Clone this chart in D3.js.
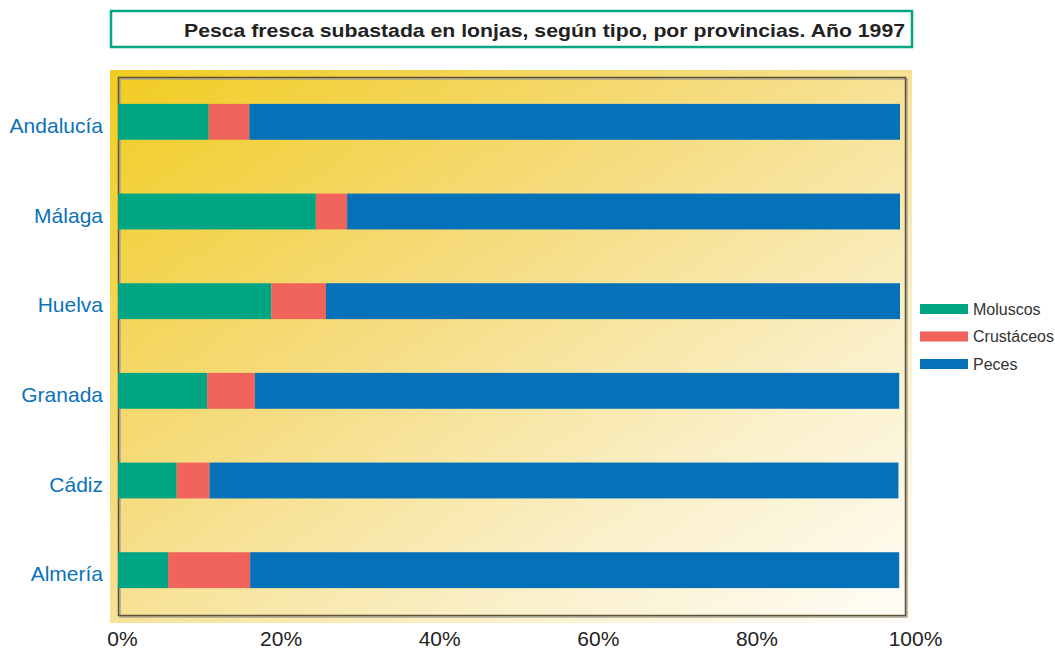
<!DOCTYPE html>
<html>
<head>
<meta charset="utf-8">
<script src="https://cdn.jsdelivr.net/npm/d3@7"></script>
<style>
  body { margin: 0; background: #fff; }
  text { font-family: "Liberation Sans", Arial, sans-serif; }
</style>
</head>
<body>
<div id="chart"></div>
<script>

// provinces, top to bottom
var provincias = ["Andalucía", "Málaga", "Huelva", "Granada", "Cádiz", "Almería"];

// share of each type, in percent
var moluscos   = [11.6, 25.3, 19.6, 11.4, 7.5, 6.4];
var crustaceos = [5.2, 4.0, 7.0, 6.1, 4.2, 10.5];
var peces      = [83.2, 70.7, 73.4, 82.4, 88.1, 83.0];

var series = ["Moluscos", "Crustáceos", "Peces"];
var colores = ["#00a683", "#f0645c", "#0571b9"];

var ticks = [0, 20, 40, 60, 80, 100];
var titulo = "Pesca fresca subastada en lonjas, según tipo, por provincias. Año 1997";

var width = 1055, height = 649;

var svg = d3.select("#chart")
  .append("svg")
    .attr("width", width)
    .attr("height", height);

var defs = svg.append("defs");

// yellow to white background
var grad = defs.append("linearGradient")
    .attr("id", "fondo")
    .attr("x1", 0).attr("y1", 0)
    .attr("x2", 1).attr("y2", 1);
grad.append("stop").attr("offset", 0).attr("stop-color", "#f1cb1b");
grad.append("stop").attr("offset", 0.4).attr("stop-color", "#f5db7c");
grad.append("stop").attr("offset", 0.72).attr("stop-color", "#faefc6");
grad.append("stop").attr("offset", 1).attr("stop-color", "#fffdf8");

// faint diagonal hatch on top of it
var hatch = defs.append("pattern")
    .attr("id", "rayas")
    .attr("width", 4).attr("height", 4)
    .attr("patternUnits", "userSpaceOnUse")
    .attr("patternTransform", "rotate(45)");
hatch.append("line")
    .attr("x1", 0).attr("y1", 0)
    .attr("x2", 0).attr("y2", 4)
    .attr("stroke", "#fff")
    .attr("stroke-opacity", 0.18)
    .attr("stroke-width", 1);

// title box
svg.append("rect")
    .attr("x", 111).attr("y", 11)
    .attr("width", 801).attr("height", 36)
    .attr("fill", "#fff")
    .attr("stroke", "#00a683")
    .attr("stroke-width", 2.5);

svg.append("text")
    .attr("x", 905).attr("y", 37)
    .attr("text-anchor", "end")
    .attr("font-size", 19)
    .attr("font-weight", "bold")
    .attr("fill", "#222")
    .attr("textLength", 721)
    .attr("lengthAdjust", "spacingAndGlyphs")
    .text(titulo);

// plot background
svg.append("rect")
    .attr("x", 110).attr("y", 70)
    .attr("width", 802).attr("height", 553)
    .attr("fill", "url(#fondo)");
svg.append("rect")
    .attr("x", 110).attr("y", 70)
    .attr("width", 802).attr("height", 553)
    .attr("fill", "url(#rayas)");

// frame with a small shadow
svg.append("rect")
    .attr("x", 120).attr("y", 79)
    .attr("width", 787).attr("height", 538)
    .attr("fill", "none")
    .attr("stroke", "#aaa597")
    .attr("stroke-width", 1.5);
svg.append("rect")
    .attr("x", 118.5).attr("y", 77.5)
    .attr("width", 787).attr("height", 538)
    .attr("fill", "none")
    .attr("stroke", "#5e5336")
    .attr("stroke-width", 1.5);

// scales
var x = d3.scaleLinear()
    .domain([0, 100])
    .range([118, 900]);

var y = d3.scaleBand()
    .domain(provincias)
    .range([77, 615])
    .paddingInner(0.6)
    .paddingOuter(0.3);

// tick labels sit a little to the right of the bar scale
var xLabels = d3.scaleLinear()
    .domain([0, 100])
    .range([122, 915]);

var rows = provincias.map(function(p, i) {
  return {provincia: p, Moluscos: moluscos[i], "Crustáceos": crustaceos[i], Peces: peces[i]};
});

var stacked = d3.stack().keys(series)(rows);

svg.append("g")
  .selectAll("g")
  .data(stacked)
  .join("g")
    .attr("fill", function(d, i) { return colores[i]; })
  .selectAll("rect")
  .data(function(d) { return d; })
  .join("rect")
    .attr("x", function(d) { return x(d[0]); })
    .attr("y", function(d) { return y(d.data.provincia); })
    .attr("width", function(d) { return x(d[1]) - x(d[0]); })
    .attr("height", y.bandwidth());

// province labels
svg.append("g")
  .selectAll("text")
  .data(provincias)
  .join("text")
    .attr("x", 103)
    .attr("y", function(d) { return y(d) + y.bandwidth() / 2 + 11; })
    .attr("text-anchor", "end")
    .attr("font-size", 21)
    .attr("fill", "#0b72b8")
    .text(function(d) { return d; });

// x axis, labels only
var xAxis = svg.append("g")
    .attr("transform", "translate(0,629)")
    .call(d3.axisBottom(xLabels)
      .tickValues(ticks)
      .tickSize(0)
      .tickPadding(0)
      .tickFormat(function(d) { return d + "%"; }));
xAxis.select(".domain").remove();
xAxis.selectAll("text")
    .attr("font-size", 21)
    .attr("font-family", "'Liberation Sans', Arial, sans-serif")
    .attr("fill", "#222")
    .attr("dy", "0.8em");

// legend
var legend = svg.append("g")
  .selectAll("g")
  .data(series)
  .join("g")
    .attr("transform", function(d, i) { return "translate(920," + (304 + i * 27.5) + ")"; });

legend.append("rect")
    .attr("width", 48)
    .attr("height", 10)
    .attr("fill", function(d, i) { return colores[i]; });

legend.append("text")
    .attr("x", 53)
    .attr("y", 10.5)
    .attr("font-size", 16)
    .attr("fill", "#333")
    .text(function(d) { return d; });

</script>
</body>
</html>
